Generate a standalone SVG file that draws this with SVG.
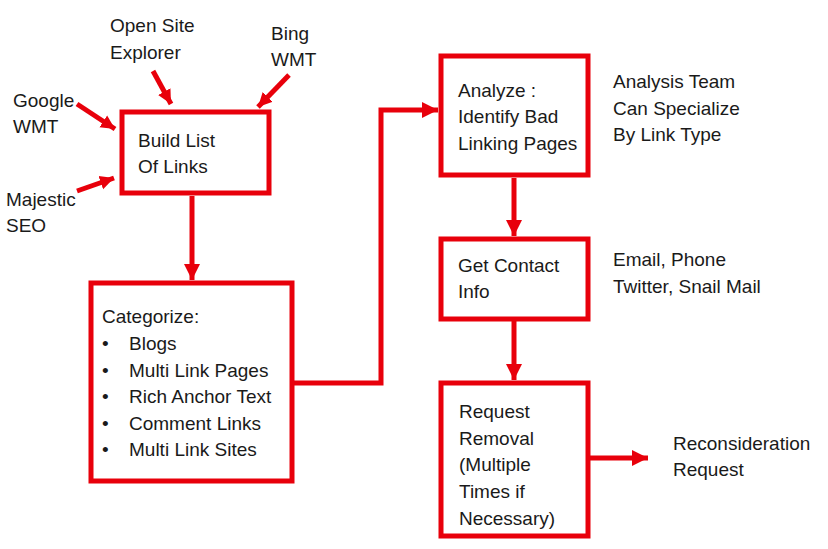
<svg xmlns="http://www.w3.org/2000/svg" width="828" height="549" viewBox="0 0 828 549">
<style>
.box{fill:#fff;stroke:#e8000b;stroke-width:5}
.ln{fill:none;stroke:#e8000b;stroke-width:5}
text{font-family:"Liberation Sans",Arial,sans-serif;font-size:19px;fill:#1a1a1a}
</style>
<defs>
<marker id="ah" markerUnits="userSpaceOnUse" markerWidth="18" markerHeight="18" refX="16" refY="9" orient="auto">
<path d="M0,1 L16,9 L0,17 Z" fill="#e8000b"/>
</marker>
<marker id="ahs" markerUnits="userSpaceOnUse" markerWidth="16" markerHeight="16" refX="14" refY="8" orient="auto">
<path d="M0,1 L14,8 L0,15 Z" fill="#e8000b"/>
</marker>
</defs>
<rect width="828" height="549" fill="#fff"/>
<g id="connectors">
<line class="ln" x1="153" y1="71" x2="171" y2="104" marker-end="url(#ahs)"/>
<line class="ln" x1="289" y1="75" x2="258" y2="107" marker-end="url(#ahs)"/>
<line class="ln" x1="77" y1="104" x2="115" y2="129" marker-end="url(#ahs)"/>
<line class="ln" x1="77" y1="191" x2="114" y2="178" marker-end="url(#ahs)"/>
<line class="ln" x1="192" y1="196" x2="192" y2="280" marker-end="url(#ah)"/>
<polyline class="ln" points="293,383 381,383 381,110 438,110" marker-end="url(#ah)"/>
<line class="ln" x1="514" y1="178" x2="514" y2="236" marker-end="url(#ah)"/>
<line class="ln" x1="514" y1="321" x2="514" y2="380" marker-end="url(#ah)"/>
<line class="ln" x1="589" y1="458" x2="648" y2="458" marker-end="url(#ah)"/>
</g>
<g id="build-list">
<rect class="box" x="122" y="112" width="147" height="81"/>
<text x="138" y="147">Build List</text>
<text x="138" y="173">Of Links</text>
</g>
<g id="open-site-explorer">
<text x="110" y="32">Open Site</text>
<text x="110" y="59">Explorer</text>
</g>
<g id="bing-wmt">
<text x="271" y="40">Bing</text>
<text x="271" y="66">WMT</text>
</g>
<g id="google-wmt">
<text x="13" y="107">Google</text>
<text x="13" y="133">WMT</text>
</g>
<g id="majestic-seo">
<text x="6" y="206">Majestic</text>
<text x="6" y="232">SEO</text>
</g>
<g id="categorize">
<rect class="box" x="91" y="283" width="201" height="198"/>
<text x="102" y="323">Categorize:</text>
<text x="102" y="350">•</text><text x="129" y="350">Blogs</text>
<text x="102" y="377">•</text><text x="129" y="377">Multi Link Pages</text>
<text x="102" y="403">•</text><text x="129" y="403">Rich Anchor Text</text>
<text x="102" y="430">•</text><text x="129" y="430">Comment Links</text>
<text x="102" y="456">•</text><text x="129" y="456">Multi Link Sites</text>
</g>
<g id="analyze">
<rect class="box" x="441" y="56" width="147" height="119"/>
<text x="458" y="97">Analyze :</text>
<text x="458" y="123">Identify Bad</text>
<text x="458" y="150">Linking Pages</text>
</g>
<g id="analysis-team">
<text x="613" y="88">Analysis Team</text>
<text x="613" y="115">Can Specialize</text>
<text x="613" y="141">By Link Type</text>
</g>
<g id="get-contact">
<rect class="box" x="441" y="239" width="147" height="80"/>
<text x="458" y="272">Get Contact</text>
<text x="458" y="298">Info</text>
</g>
<g id="contact-methods">
<text x="613" y="266">Email, Phone</text>
<text x="613" y="293">Twitter, Snail Mail</text>
</g>
<g id="request-removal">
<rect class="box" x="441" y="383" width="147" height="153"/>
<text x="459" y="418">Request</text>
<text x="459" y="445">Removal</text>
<text x="459" y="471">(Multiple</text>
<text x="459" y="498">Times if</text>
<text x="459" y="525">Necessary)</text>
</g>
<g id="reconsideration">
<text x="673" y="450">Reconsideration</text>
<text x="673" y="476">Request</text>
</g>
</svg>
